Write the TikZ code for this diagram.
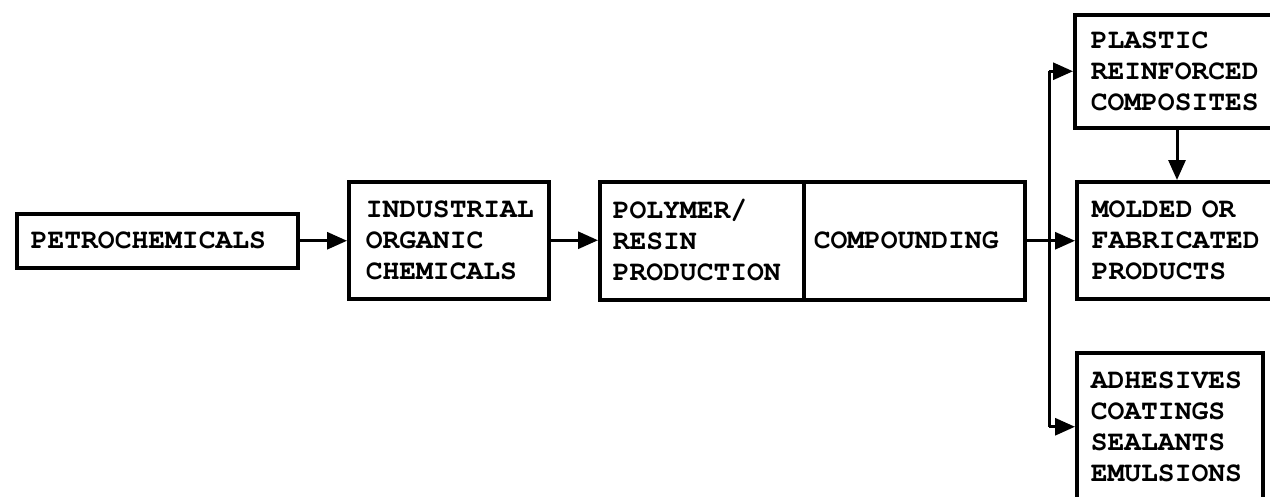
\documentclass[tikz,border=0pt]{standalone}
\usepackage[T1]{fontenc}
\usetikzlibrary{arrows.meta}
\newcommand{\flowfont}{\fontencoding{T1}\fontfamily{pcr}\fontseries{b}\fontsize{28}{31}\selectfont}
\tikzset{
  blk/.style={draw, line width=3.5pt, anchor=north west, align=left,
    inner ysep=0pt, font=\flowfont},
  arr/.style={line width=3pt, -{Triangle[length=20pt, width=17pt]}},
  bus/.style={line width=3pt}
}
\begin{document}
\begin{tikzpicture}[x=1pt, y=-1pt]
  \clip (0,0) rectangle (1270,496);
  \fill[white] (0,0) rectangle (1270,496);

  % main chain
  \node[blk, minimum width=281pt, minimum height=54pt, inner xsep=14pt, text width=253pt]
    (petro) at (15,212) {PETROCHEMICALS};
  \node[blk, minimum width=200pt, minimum height=117pt, inner xsep=17pt, text width=166pt]
    (indus) at (347,180) {INDUSTRIAL\\ORGANIC\\CHEMICALS};
  \node[blk, minimum width=204pt, minimum height=118pt, inner xsep=13pt, text width=178pt]
    (poly) at (598,180) {POLYMER/\\RESIN\\PRODUCTION};
  \node[blk, minimum width=221pt, minimum height=118pt, inner xsep=10pt, text width=201pt]
    (comp) at (802,180) {COMPOUNDING};

  % end products (run past the right and bottom edges)
  \node[blk, minimum width=260pt, minimum height=113pt, inner xsep=16pt, text width=228pt]
    (plastic) at (1073,13) {PLASTIC\\REINFORCED\\COMPOSITES};
  \node[blk, minimum width=260pt, minimum height=117pt, inner xsep=15pt, text width=230pt]
    (molded) at (1075,180) {MOLDED OR\\FABRICATED\\PRODUCTS};
  \node[blk, minimum width=186pt, minimum height=148pt, inner xsep=14pt, text width=158pt]
    (adhes) at (1075,351) {ADHESIVES\\COATINGS\\SEALANTS\\EMULSIONS};

  % connectors
  \draw[arr] (petro.east) -- (petro.east -| indus.west);
  \draw[arr] (indus.east) -- (indus.east -| poly.west);
  \draw[arr] (comp.east) -- (comp.east -| molded.west);
  \coordinate (junc) at (comp.east -| 1049,0);
  \draw[bus] (junc |- plastic.west) -- (junc |- adhes.west);
  \draw[arr] (junc |- plastic.west) -- (plastic.west);
  \draw[arr] (junc |- adhes.west) -- (adhes.west);
  \coordinate (drop) at ([xshift=104pt]plastic.south west);
  \draw[arr] (drop) -- (drop |- molded.north);
\end{tikzpicture}
\end{document}
